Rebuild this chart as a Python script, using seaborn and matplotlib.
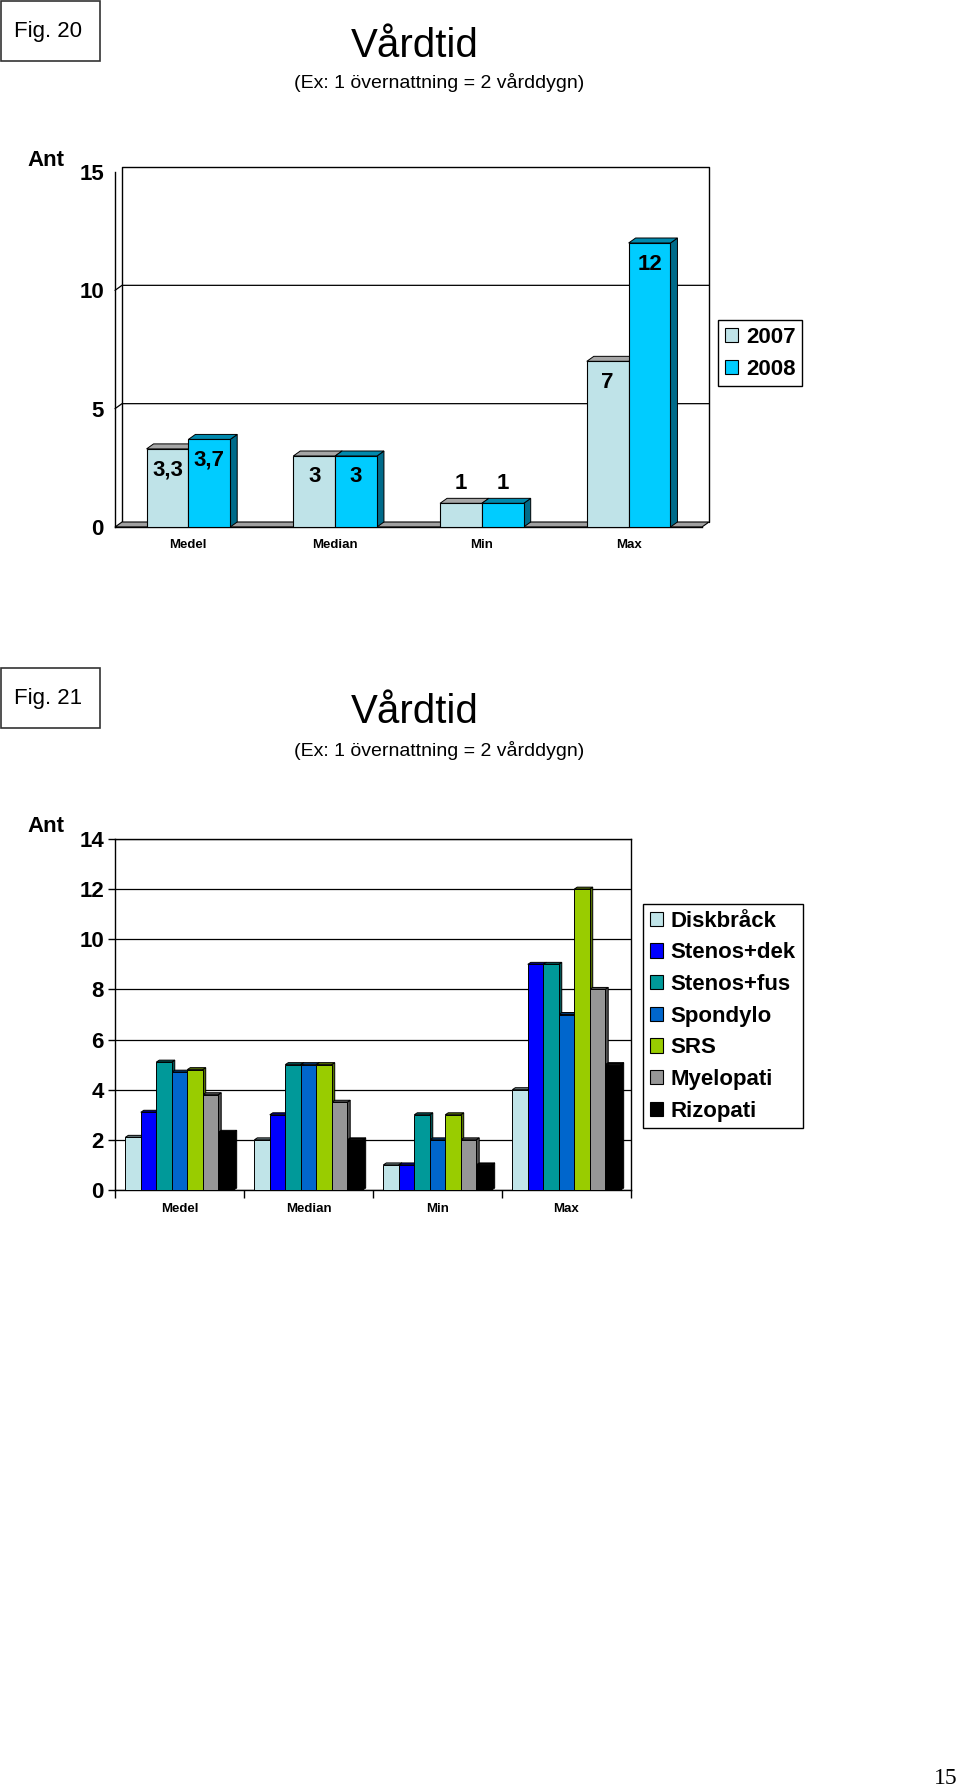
import matplotlib
matplotlib.use('Agg')
import matplotlib.pyplot as plt
from matplotlib.patches import Polygon, Rectangle, Patch
import matplotlib.colors as mcolors
import pandas as pd
import seaborn as sns

# ---- data ----
categories = ['Medel', 'Median', 'Min', 'Max']

years = ['2007', '2008']
vals_2007 = [3.3, 3, 1, 7]
vals_2008 = [3.7, 3, 1, 12]
year_colors = ['#BFE3E8', '#00CCFF']
year_side = ['#8FB3B8', '#006B8A']
year_top = ['#A6A6A6', '#0089AD']

groups = ['Diskbråck', 'Stenos+dek', 'Stenos+fus', 'Spondylo', 'SRS', 'Myelopati', 'Rizopati']
diskbrack = [2.1, 2, 1, 4]
stenos_dek = [3.1, 3, 1, 9]
stenos_fus = [5.1, 5, 3, 9]
spondylo = [4.7, 5, 2, 7]
srs = [4.8, 5, 3, 12]
myelopati = [3.8, 3.5, 2, 8]
rizopati = [2.3, 2, 1, 5]
group_colors = ['#C0E4E8', '#0000FF', '#009999', '#0066CC', '#99CC00', '#969696', '#000000']

title = 'Vårdtid'
subtitle = '(Ex: 1 övernattning = 2 vårddygn)'

sns.set_style('white')
plt.rcParams['font.family'] = ['Liberation Sans', 'DejaVu Sans']
for k in ['text.color', 'axes.labelcolor', 'xtick.color', 'ytick.color']:
    plt.rcParams[k] = 'black'

W, H = 960, 1792
fig = plt.figure(figsize=(W / 100, H / 100), dpi=100)


def fx(px):
    return px / W


def fy(py):
    return 1 - py / H


def px_to_data(ax, dxp, dyp):
    inv = ax.transData.inverted()
    p = ax.transData.transform((0, 0))
    q = inv.transform((p[0] + dxp, p[1] + dyp))
    return q[0], q[1]


def add_depth(ax, dx, dy, sides, tops):
    for i, cont in enumerate(ax.containers):
        for bar in cont:
            x, w, h = bar.get_x(), bar.get_width(), bar.get_height()
            side = Polygon([(x + w, 0), (x + w + dx, dy), (x + w + dx, h + dy), (x + w, h)],
                           closed=True, facecolor=sides[i], edgecolor='black', linewidth=0.7,
                           zorder=2, clip_on=False)
            top = Polygon([(x, h), (x + dx, h + dy), (x + w + dx, h + dy), (x + w, h)],
                          closed=True, facecolor=tops[i], edgecolor='black', linewidth=0.7,
                          zorder=2, clip_on=False)
            ax.add_patch(side)
            ax.add_patch(top)


def header(y_box, y_title, y_sub, fig_label):
    fig.patches.append(Rectangle((fx(1), fy(y_box + 61)), fx(99), 60 / H, transform=fig.transFigure,
                                 fill=False, edgecolor='#333333', linewidth=1.2))
    fig.text(fx(48), fy(y_box + 31), fig_label, ha='center', va='center', fontsize=16)
    fig.text(fx(415), fy(y_title), title, ha='center', va='center', fontsize=29)
    fig.text(fx(439), fy(y_sub), subtitle, ha='center', va='center', fontsize=14)


# ================= Fig. 20 =================
header(0, 46, 83, 'Fig. 20')

df1 = pd.DataFrame({
    'Mått': categories * 2,
    'År': [years[0]] * len(categories) + [years[1]] * len(categories),
    'Ant': vals_2007 + vals_2008,
})

ax1 = fig.add_axes([fx(115), fy(527), fx(587), (527 - 172) / H])
sns.barplot(data=df1, x='Mått', y='Ant', hue='År', order=categories, hue_order=years,
            palette=year_colors, saturation=1, width=0.57, edgecolor='black', linewidth=0.8,
            legend=False, ax=ax1, zorder=3)
ax1.set_xlim(-0.5, len(categories) - 0.5)
ax1.set_ylim(0, 15)
ax1.set_xlabel('')
ax1.set_ylabel('')
dx1, dy1 = px_to_data(ax1, 7, 5)
add_depth(ax1, dx1, dy1, year_side, year_top)

x0, x1 = ax1.get_xlim()
# back wall, floor and grid
ax1.add_patch(Polygon([(x0, 0), (x0 + dx1, dy1), (x1 + dx1, dy1), (x1, 0)], closed=True,
                      facecolor='#A0A0A0', edgecolor='black', linewidth=0.8, zorder=1, clip_on=False))
ax1.plot([x0 + dx1, x0 + dx1, x1 + dx1, x1 + dx1], [dy1, 15 + dy1, 15 + dy1, dy1],
         color='black', linewidth=1, zorder=0.5, clip_on=False)
for v in [5, 10]:
    ax1.plot([x0, x0 + dx1, x1 + dx1], [v, v + dy1, v + dy1], color='black',
             linewidth=0.9, zorder=0.5, clip_on=False)

for i, cont in enumerate(ax1.containers):
    for bar in cont:
        h = bar.get_height()
        txt = ('%g' % h).replace('.', ',')
        ax1.annotate(txt, (bar.get_x() + bar.get_width() / 2, h),
                     xytext=(0, -21 if h > 2 else 20), textcoords='offset pixels',
                     ha='center', va='center', fontsize=16, fontweight='bold', zorder=5)

for s in ['top', 'right']:
    ax1.spines[s].set_visible(False)
for s in ['left', 'bottom']:
    ax1.spines[s].set_color('black')
    ax1.spines[s].set_linewidth(1)
ax1.set_yticks([0, 5, 10, 15])
ax1.tick_params(axis='y', length=5, width=1, direction='out', color='black', labelsize=16, pad=3)
for t in ax1.get_yticklabels():
    t.set_fontweight('bold')
ax1.set_xticks([i - 0.5 for i in range(len(categories) + 1)], minor=True)
ax1.tick_params(axis='x', which='major', length=0, labelsize=9.5, pad=9)
ax1.tick_params(axis='x', which='minor', length=6, width=1, direction='out', color='black')
for t in ax1.get_xticklabels():
    t.set_fontweight('bold')
fig.text(fx(46), fy(160), 'Ant', ha='center', va='center', fontsize=16, fontweight='bold')

leg1 = fig.legend(handles=[Patch(facecolor=c, edgecolor='black', linewidth=0.8, label=l)
                           for c, l in zip(year_colors, years)],
                  loc='upper left', bbox_to_anchor=(fx(718), fy(320)), bbox_transform=fig.transFigure,
                  borderaxespad=0, frameon=True, fancybox=False, framealpha=1, edgecolor='black',
                  prop={'size': 16, 'weight': 'bold'}, handlelength=0.6, handleheight=0.6,
                  handletextpad=0.35, borderpad=0.3, labelspacing=0.5)
leg1.get_frame().set_linewidth(1)

# ================= Fig. 21 =================
header(667, 712, 750, 'Fig. 21')

series2 = [diskbrack, stenos_dek, stenos_fus, spondylo, srs, myelopati, rizopati]
df2 = pd.DataFrame({
    'Mått': categories * len(groups),
    'Diagnos': [g for g in groups for _ in categories],
    'Ant': [v for s in series2 for v in s],
})

ax2 = fig.add_axes([fx(115), fy(1190), fx(516), 351 / H])
sns.barplot(data=df2, x='Mått', y='Ant', hue='Diagnos', order=categories, hue_order=groups,
            palette=group_colors, saturation=1, width=0.84, edgecolor='black', linewidth=0.7,
            legend=False, ax=ax2, zorder=3)
ax2.set_xlim(-0.5, len(categories) - 0.5)
ax2.set_ylim(0, 14)
ax2.set_xlabel('')
ax2.set_ylabel('')
dx2, dy2 = px_to_data(ax2, 3, 2)
dark = [mcolors.to_hex([c * 0.55 for c in mcolors.to_rgb(col)]) for col in group_colors]
add_depth(ax2, dx2, dy2, dark, dark)

ax2.set_yticks(range(0, 15, 2))
ax2.yaxis.grid(True, color='black', linewidth=0.9)
ax2.set_axisbelow(True)
for s in ax2.spines.values():
    s.set_color('black')
    s.set_linewidth(1)
ax2.tick_params(axis='y', length=5, width=1, direction='out', color='black', labelsize=16, pad=3, left=True)
for t in ax2.get_yticklabels():
    t.set_fontweight('bold')
ax2.set_xticks([i - 0.5 for i in range(len(categories) + 1)], minor=True)
ax2.tick_params(axis='x', which='major', length=0, labelsize=9.5, pad=9)
ax2.tick_params(axis='x', which='minor', length=6, width=1, direction='out', color='black', bottom=True)
for t in ax2.get_xticklabels():
    t.set_fontweight('bold')
fig.text(fx(46), fy(826), 'Ant', ha='center', va='center', fontsize=16, fontweight='bold')

leg2 = fig.legend(handles=[Patch(facecolor=c, edgecolor='black', linewidth=0.8, label=l)
                           for c, l in zip(group_colors, groups)],
                  loc='upper left', bbox_to_anchor=(fx(643), fy(904)), bbox_transform=fig.transFigure,
                  borderaxespad=0, frameon=True, fancybox=False, framealpha=1, edgecolor='black',
                  prop={'size': 16, 'weight': 'bold'}, handlelength=0.6, handleheight=0.6,
                  handletextpad=0.35, borderpad=0.3, labelspacing=0.48)
leg2.get_frame().set_linewidth(1)

# page number
fig.text(fx(946), fy(1778), '15', ha='center', va='center', fontsize=17, family='Liberation Serif')

fig.savefig('out.png', dpi=100)
